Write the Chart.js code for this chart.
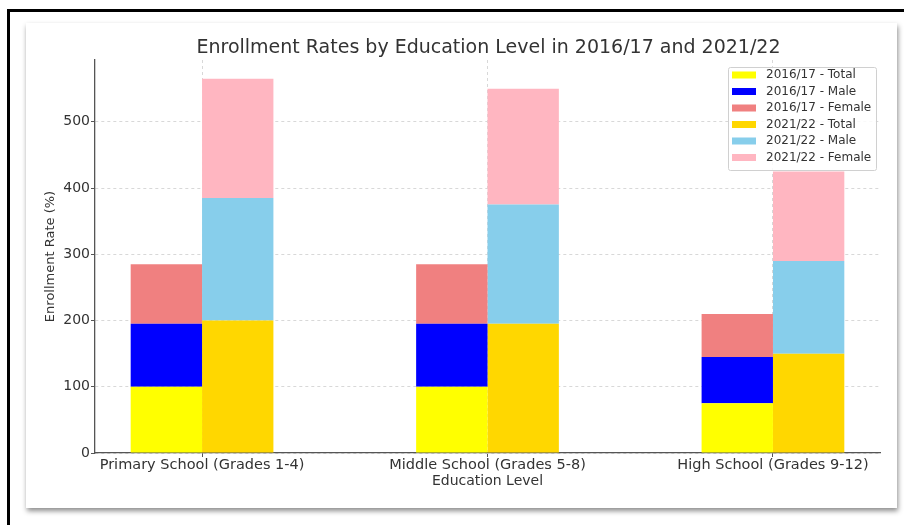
<!DOCTYPE html>
<html>
<head>
<meta charset="utf-8">
<script src="https://cdn.jsdelivr.net/npm/chart.js@4.4.1/dist/chart.umd.min.js"></script>
<style>
  html, body { margin: 0; padding: 0; background: #fff; width: 904px; height: 525px; overflow: hidden; }
  .frame { position: absolute; left: 7px; top: 9px; width: 960px; height: 600px; border-left: 3px solid #000; border-top: 3px solid #000; }
  .card { position: absolute; left: 26px; top: 23px; width: 871px; height: 485px; background: #fff; box-shadow: 1px 3px 5px rgba(0, 0, 0, 0.45); }
  #chart { position: absolute; left: 0; top: 0; }
</style>
</head>
<body>
<div class="frame"></div>
<div class="card"></div>
<canvas id="chart" width="904" height="525"></canvas>
<script>
const categories = ['Primary School (Grades 1-4)', 'Middle School (Grades 5-8)', 'High School (Grades 9-12)'];

// 2016/17
const total1617 = [100, 100, 75];
const male1617 = [95, 95, 70];
const female1617 = [90, 90, 65];

// 2021/22
const total2122 = [200, 195, 150];
const male2122 = [185, 180, 140];
const female2122 = [180, 175, 135];

const yTicks = [0, 100, 200, 300, 400, 500];

const chartTitle = 'Enrollment Rates by Education Level in 2016/17 and 2021/22';

const FONT = "'DejaVu Sans', sans-serif";
const TEXT = '#333';

function points(values) {
    return values.map((v, i) => ({ x: i, y: v }));
}

function series(label, values, color, stack) {
    return {
        label: label,
        data: points(values),
        backgroundColor: color,
        borderWidth: 0,
        stack: stack,
        categoryPercentage: 0.5,
        barPercentage: 1.0
    };
}

// title centred over the plot area rather than the whole canvas
const plotTitle = {
    id: 'plotTitle',
    afterDraw(chart) {
        const ctx = chart.ctx;
        const area = chart.chartArea;
        ctx.save();
        ctx.font = '19px ' + FONT;
        ctx.fillStyle = TEXT;
        ctx.textAlign = 'center';
        ctx.textBaseline = 'middle';
        ctx.fillText(chartTitle, (area.left + area.right) / 2 + 1, area.top - 12);
        ctx.restore();
    }
};

// legend box drawn inside the plot, top right
const boxLegend = {
    id: 'boxLegend',
    afterDraw(chart) {
        const ctx = chart.ctx;
        const sets = chart.data.datasets;
        const x = 728, y = 67, w = 148, h = 103, row = 16.5;
        ctx.save();
        ctx.fillStyle = 'rgba(255,255,255,0.85)';
        ctx.strokeStyle = '#d0d0d0';
        ctx.lineWidth = 1;
        ctx.beginPath();
        ctx.roundRect(x + 0.5, y + 0.5, w, h, 2);
        ctx.fill();
        ctx.stroke();
        ctx.font = '12px ' + FONT;
        ctx.textBaseline = 'middle';
        sets.forEach((ds, i) => {
            const cy = y + 8 + row * i;
            ctx.fillStyle = ds.backgroundColor;
            ctx.fillRect(x + 4, cy - 3.5, 24, 7);
            ctx.fillStyle = TEXT;
            ctx.fillText(ds.label, x + 38, cy);
        });
        ctx.restore();
    }
};

new Chart(document.getElementById('chart').getContext('2d'), {
    type: 'bar',
    data: {
        datasets: [
            series('2016/17 - Total', total1617, '#FFFF00', '2016/17'),
            series('2016/17 - Male', male1617, '#0000FF', '2016/17'),
            series('2016/17 - Female', female1617, '#F08080', '2016/17'),
            series('2021/22 - Total', total2122, '#FFD700', '2021/22'),
            series('2021/22 - Male', male2122, '#87CEEB', '2021/22'),
            series('2021/22 - Female', female2122, '#FFB6C1', '2021/22')
        ]
    },
    options: {
        responsive: false,
        animation: false,
        layout: { padding: { top: 60, left: 38, right: 24, bottom: 32 } },
        plugins: {
            legend: { display: false },
            tooltip: { enabled: false },
            title: { display: false }
        },
        scales: {
            x: {
                type: 'linear',
                min: -0.375,
                max: 2.375,
                offset: false,
                afterBuildTicks: (axis) => { axis.ticks = categories.map((c, i) => ({ value: i })); },
                afterFit: (axis) => { axis.height = 40; },
                ticks: {
                    callback: (v) => categories[v],
                    color: TEXT,
                    font: { family: FONT, size: 14.5 },
                    padding: 0,
                    maxRotation: 0,
                    autoSkip: false
                },
                grid: { offset: false, color: '#d8d8d8', lineWidth: 1, tickLength: 4, tickColor: '#555', tickWidth: 1 },
                border: { color: '#555', width: 1.3, dash: [3, 3] },
                title: {
                    display: true,
                    text: 'Education Level',
                    color: TEXT,
                    font: { family: FONT, size: 14 },
                    padding: { top: 0, bottom: 3 }
                }
            },
            y: {
                stacked: true,
                min: 0,
                max: 593.25,
                afterBuildTicks: (axis) => { axis.ticks = yTicks.map((v) => ({ value: v })); },
                afterFit: (axis) => { axis.width = 57; },
                ticks: {
                    color: TEXT,
                    font: { family: FONT, size: 14 },
                    padding: 1
                },
                grid: { color: '#d8d8d8', lineWidth: 1, tickLength: 4, tickColor: '#555', tickWidth: 1 },
                border: { color: '#555', width: 1.3, dash: [3, 3] },
                title: {
                    display: true,
                    text: 'Enrollment Rate (%)',
                    color: TEXT,
                    font: { family: FONT, size: 13 },
                    padding: { top: 5, bottom: 0 }
                }
            }
        }
    },
    plugins: [plotTitle, boxLegend]
});
</script>
</body>
</html>
